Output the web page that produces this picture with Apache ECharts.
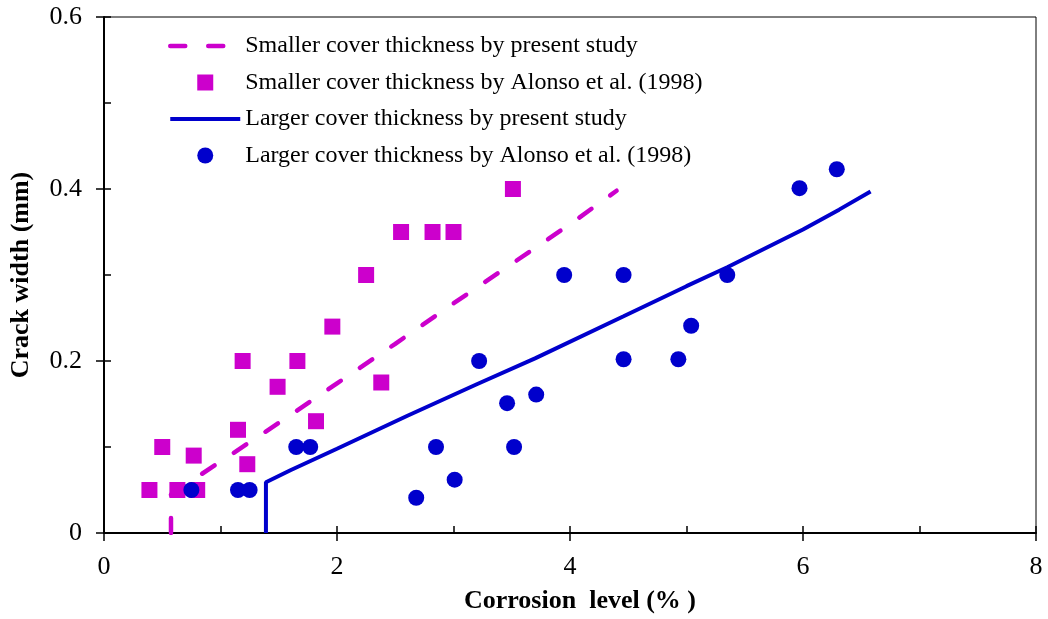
<!DOCTYPE html>
<html>
<head>
<meta charset="utf-8">
<script src="https://cdn.jsdelivr.net/npm/echarts@6/dist/echarts.min.js"></script>
<style>
  html, body { margin: 0; padding: 0; background: #fff; }
  #chart { width: 1048px; height: 619px; }
</style>
</head>
<body>
<div id="chart"></div>
<script>
// curves from the present study: [corrosion level %, crack width mm]
const smallerModel = [[0.575, 0], [0.575, 0.045], [1.0, 0.083], [1.5, 0.128], [2.0, 0.174], [2.5, 0.220],
  [3.0, 0.267], [3.5, 0.313], [4.0, 0.359], [4.4, 0.398]]
const largerModel = [[1.39, 0], [1.39, 0.059], [1.6, 0.073], [2.0, 0.098], [2.6, 0.136], [3.2, 0.173],
  [3.7, 0.203], [4.46, 0.252], [5.0, 0.287], [5.35, 0.309], [6.0, 0.353], [6.31, 0.376], [6.58, 0.397]]

// test data, Alonso et al. (1998)
const smallerTest = [[0.39, 0.05], [0.5, 0.1], [0.63, 0.05], [0.77, 0.09], [0.8, 0.05], [1.15, 0.12],
  [1.23, 0.08], [1.19, 0.2], [1.49, 0.17], [1.66, 0.2], [1.82, 0.13], [1.96, 0.24], [2.25, 0.3],
  [2.38, 0.175], [2.55, 0.35], [2.82, 0.35], [3.0, 0.35], [3.51, 0.4]]
const largerTest = [[0.75, 0.05], [1.15, 0.05], [1.25, 0.05], [1.65, 0.1], [1.77, 0.1], [2.68, 0.041],
  [2.85, 0.1], [3.01, 0.062], [3.22, 0.2], [3.46, 0.151], [3.52, 0.1], [3.71, 0.161], [3.95, 0.3],
  [4.46, 0.3], [4.46, 0.202], [4.93, 0.202], [5.04, 0.241], [5.35, 0.3], [5.97, 0.401], [6.29, 0.423]]

const seriesNames = [
  'Smaller cover thickness by present study',
  'Smaller cover thickness by Alonso et al. (1998)',
  'Larger cover thickness by present study',
  'Larger cover thickness by Alonso et al. (1998)',
]

const font = '"Liberation Serif", "Times New Roman", serif'
const magenta = '#cc00cc'
const blue = '#0000cc'
const squareIcon = 'path://M0,0H10V10H0Z'

const chart = echarts.init(document.getElementById('chart'))

chart.setOption({
  animation: false,
  textStyle: { fontFamily: font, color: '#000' },
  grid: { left: 103, right: 12, top: 17, bottom: 85, show: true, borderColor: '#000', borderWidth: 1 },
  legend: {
    orient: 'vertical',
    left: 163,
    top: 29,
    itemWidth: 70,
    itemHeight: 16,
    itemGap: 12.5,
    symbolKeepAspect: true,
    data: [
      { name: seriesNames[0], itemStyle: { opacity: 0 }, lineStyle: { width: 4.5, type: [15, 23], cap: 'round' } },
      { name: seriesNames[1], icon: squareIcon },
      { name: seriesNames[2], itemStyle: { opacity: 0 }, lineStyle: { width: 4 } },
      { name: seriesNames[3], icon: 'circle' },
    ],
    textStyle: { fontFamily: font, fontSize: 24, color: '#000' },
  },
  xAxis: [
    {
      type: 'value',
      min: 0,
      max: 8,
      interval: 2,
      position: 'bottom',
      name: 'Corrosion  level (% )',
      nameLocation: 'middle',
      nameGap: 55,
      nameTextStyle: { fontFamily: font, fontSize: 26, fontWeight: 'bold', color: '#000', padding: [0, 0, 0, 20] },
      axisLine: { lineStyle: { color: '#000', width: 2 } },
      axisTick: { inside: false, length: 8, lineStyle: { color: '#000', width: 1.5 } },
      axisLabel: { fontFamily: font, fontSize: 26, color: '#000', margin: 21 },
      splitLine: { show: false },
    },
    {
      type: 'value',
      min: 0,
      max: 8,
      interval: 1,
      position: 'bottom',
      axisLine: { show: false },
      axisTick: { inside: true, length: 7, lineStyle: { color: '#000', width: 1.5 } },
      axisLabel: { show: false },
      splitLine: { show: false },
    },
  ],
  yAxis: [
    {
      type: 'value',
      min: 0,
      max: 0.6,
      interval: 0.2,
      position: 'left',
      name: 'Crack width (mm)',
      nameLocation: 'middle',
      nameGap: 70,
      nameTextStyle: { fontFamily: font, fontSize: 26, fontWeight: 'bold', color: '#000' },
      axisLine: { lineStyle: { color: '#000', width: 2 } },
      axisTick: { inside: false, length: 8, lineStyle: { color: '#000', width: 1.5 } },
      axisLabel: { fontFamily: font, fontSize: 26, color: '#000', margin: 22 },
      splitLine: { show: false },
    },
    {
      type: 'value',
      min: 0,
      max: 0.6,
      interval: 0.1,
      position: 'left',
      axisLine: { show: false },
      axisTick: { inside: true, length: 7, lineStyle: { color: '#000', width: 1.5 } },
      axisLabel: { show: false },
      splitLine: { show: false },
    },
  ],
  series: [
    {
      name: seriesNames[0],
      type: 'line',
      data: smallerModel,
      symbol: 'none',
      lineStyle: { color: magenta, width: 4.5, type: [15, 23], cap: 'round' },
      itemStyle: { color: magenta },
      z: 3,
    },
    {
      name: seriesNames[1],
      type: 'scatter',
      data: smallerTest,
      symbol: 'rect',
      symbolSize: 16,
      itemStyle: { color: magenta, opacity: 1 },
      z: 2,
    },
    {
      name: seriesNames[2],
      type: 'line',
      data: largerModel,
      symbol: 'none',
      lineStyle: { color: blue, width: 4 },
      itemStyle: { color: blue },
      z: 3,
    },
    {
      name: seriesNames[3],
      type: 'scatter',
      data: largerTest,
      symbol: 'circle',
      symbolSize: 16,
      itemStyle: { color: blue, opacity: 1 },
      z: 4,
    },
  ],
})
</script>
</body>
</html>
